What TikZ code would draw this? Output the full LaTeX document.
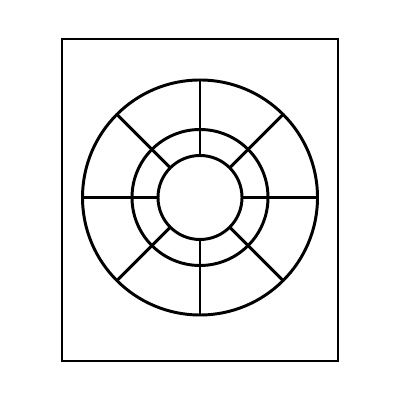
\documentclass[tikz,border=0pt]{standalone}
\usepackage{tikz}
\usetikzlibrary{positioning}
\usetikzlibrary{calc}

\begin{document}
\begin{tikzpicture}[x=0.025cm,y=0.025cm]
\useasboundingbox (0,0) rectangle (400,400);
\draw[black,line width=2.1pt] (62,39) rectangle (338,361);
\coordinate (C) at (200,202.5);
\draw[black,line width=2.1pt] (C) circle (117.5);
\draw[black,line width=2.1pt] (C) circle (68);
\draw[black,line width=2.1pt] (C) circle (42);
\foreach \a in {0,45,...,315}
  \draw[black,line width=2.1pt] ($(C)+(\a:42)$) -- ($(C)+(\a:117.5)$);
\end{tikzpicture}
\end{document}
